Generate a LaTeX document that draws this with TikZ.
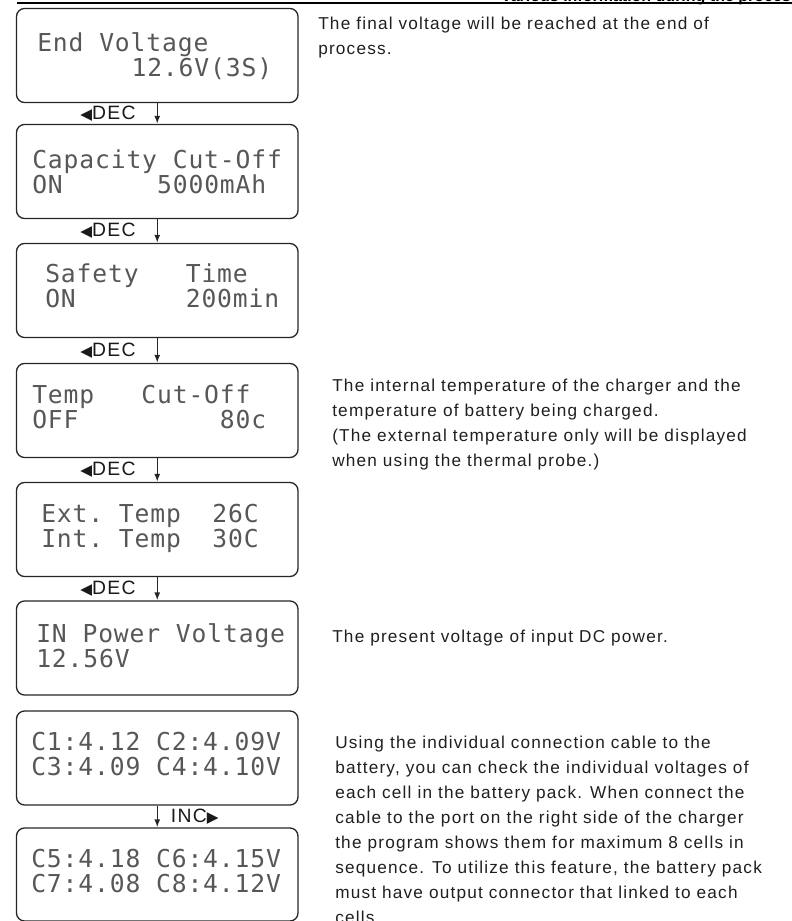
\documentclass[tikz,border=0pt]{standalone}
\usepackage{fontspec}
\usepackage{tikz}
\usetikzlibrary{positioning,arrows.meta}
\newfontfamily\descfont{Liberation Sans}[LetterSpace=7]
\newfontfamily\headfont{Liberation Sans}
\newfontfamily\lcdfont{DejaVu Sans Mono}[LetterSpace=3.5]
\newfontfamily\symbfont{DejaVu Sans}

\begin{document}
\begin{tikzpicture}[x=0.75pt,y=-0.75pt,>={Latex[length=6pt,width=4.5pt]},
	lcd/.style={draw=black!85, line width=1pt, rounded corners=6pt, minimum width=211.1pt, minimum height=70.5pt, inner sep=0pt},
	screen/.style={anchor=base west, align=left, inner sep=0pt, text=black!66, font=\lcdfont\fontsize{18.5}{18.75}\selectfont},
	keylabel/.style={inner sep=0pt, text=black!90, font=\descfont\fontsize{14.5}{15}\selectfont},
	desc/.style={anchor=base west, align=left, inner sep=0pt, text=black!88, font=\descfont\fontsize{12.9}{18.75}\selectfont}]
	\useasboundingbox (0,0) rectangle (792,921);
	
	% header
	\node[anchor=base east, inner sep=0pt, font=\headfont\bfseries\fontsize{12}{13}\selectfont] (head) at (800,1) {Various information during the process};
	\draw[line width=0.9pt] (17,3) -- (792,3);
	
	% screens
	\node[lcd] (s1) at (157.25,55.5) {};
	\node[lcd] (s2) at (157.25,171.5) {};
	\node[lcd] (s3) at (157.25,290.5) {};
	\node[lcd] (s4) at (157.25,410.5) {};
	\node[lcd] (s5) at (157.25,529.5) {};
	\node[lcd] (s6) at (157.25,648) {};
	\node[lcd] (s7) at (157.25,758) {};
	\node[lcd, minimum height=69.75pt] (s8) at (157.25,874.5) {};
	
	% screen texts (anchored on the last line)
	\node[screen] (l1) at (37,76) {End~Voltage\\~~~~~~12.6V(3S)};
	\node[screen] (l2) at (32,193) {Capacity~Cut-Off\\ON~~~~~~5000mAh};
	\node[screen] (l3) at (45,307) {Safety~~~Time\\ON~~~~~~~200min};
	\node[screen] (l4) at (32,428) {Temp~~~Cut-Off\\OFF~~~~~~~~~80c};
	\node[screen] (l5) at (41,547) {Ext.~Temp~~26C\\Int.~Temp~~30C};
	\node[screen] (l6) at (36,667) {IN~Power~Voltage\\12.56V};
	\node[screen] (l7) at (31,775) {C1:4.12~C2:4.09V\\C3:4.09~C4:4.10V};
	\node[screen] (l8) at (31,892) {C5:4.18~C6:4.15V\\C7:4.08~C8:4.12V};
	
	% key steps
	\draw[->, line width=1pt, black!85] (s1) -- node[keylabel, left=15.75pt] (k1) {{\symbfont\fontsize{11.5}{11.5}\selectfont ◀}DEC} (s2);
	\draw[->, line width=1pt, black!85] (s2) -- node[keylabel, left=15.75pt] (k2) {{\symbfont\fontsize{11.5}{11.5}\selectfont ◀}DEC} (s3);
	\draw[->, line width=1pt, black!85] (s3) -- node[keylabel, left=15.75pt] (k3) {{\symbfont\fontsize{11.5}{11.5}\selectfont ◀}DEC} (s4);
	\draw[->, line width=1pt, black!85] (s4) -- node[keylabel, left=15.75pt] (k4) {{\symbfont\fontsize{11.5}{11.5}\selectfont ◀}DEC} (s5);
	\draw[->, line width=1pt, black!85] (s5) -- node[keylabel, left=15.75pt] (k5) {{\symbfont\fontsize{11.5}{11.5}\selectfont ◀}DEC} (s6);
	\draw[->, line width=1pt, black!85] (s7) -- node[keylabel, right=9.75pt] (k7) {INC{\symbfont\fontsize{11.5}{11.5}\selectfont ▶}} (s8);
	
	% descriptions (anchored on the last line)
	\node[desc] (d1) at (318,54) {The final voltage will be reached at the end of\\process.};
	\node[desc] (d2) at (332,466) {The internal temperature of the charger and the\\temperature of battery being charged.\\(The external temperature only will be displayed\\when using the thermal probe.)};
	\node[desc] (d3) at (332,642) {The present voltage of input DC power.};
	\node[desc] (d4) at (335,923) {Using the individual connection cable to the\\battery, you can check the individual voltages of\\each cell in the battery pack. When connect the\\cable to the port on the right side of the charger\\the program shows them for maximum 8 cells in\\sequence. To utilize this feature, the battery pack\\must have output connector that linked to each\\cells.};
\end{tikzpicture}
\end{document}
